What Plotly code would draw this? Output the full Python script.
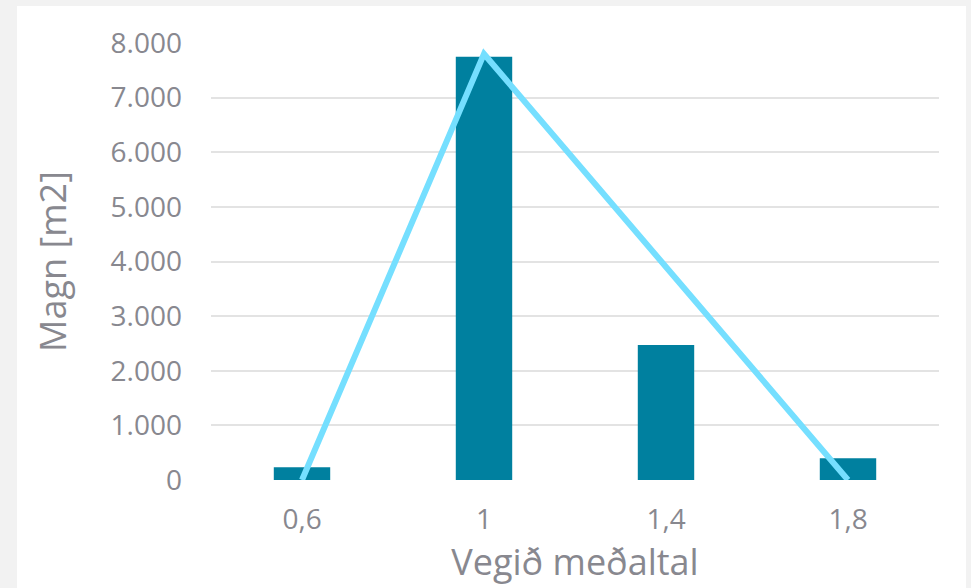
import plotly.graph_objects as go

categories = ["0,6", "1", "1,4", "1,8"]
bar_values = [235, 7750, 2470, 400]
line_values = [0, 7800, 3900, 0]
y_ticks = [0, 1000, 2000, 3000, 4000, 5000, 6000, 7000, 8000]

FONT = "Open Sans"
TEXT_GREY = "#88888f"

fig = go.Figure()
fig.add_trace(go.Bar(x=categories, y=bar_values, marker_color="#00809f",
                     marker_line_width=0, showlegend=False))
fig.add_trace(go.Scatter(x=categories, y=line_values, mode="lines",
                         line=dict(color="#75dfff", width=6), showlegend=False))

# white panel on the light grey page
fig.add_shape(type="rect", xref="paper", yref="paper",
              x0=(17 - 211) / 728, x1=(966 - 211) / 728,
              y0=-0.4, y1=(480 - 6) / 437,
              fillcolor="white", line_width=0, layer="below")

fig.update_layout(
    width=971, height=588,
    margin=dict(l=211, r=32, t=43, b=108),
    paper_bgcolor="#f2f2f2",
    plot_bgcolor="rgba(0,0,0,0)",
    bargap=0.69,
    separators=",.",
    font=dict(family=FONT, color=TEXT_GREY, size=28),
)
fig.update_xaxes(
    type="category", showgrid=False, zeroline=False, showline=False,
    ticklabelstandoff=20,
    title=dict(text="Vegið meðaltal", font=dict(size=36, color=TEXT_GREY), standoff=6),
)
fig.update_yaxes(
    range=[0, 8000], tickvals=y_ticks, tickformat=",d", separatethousands=True,
    showgrid=True, gridcolor="#e3e3e3", gridwidth=2, zeroline=False,
    ticklabelstandoff=28,
    title=dict(text="Magn [m2]", font=dict(size=36, color=TEXT_GREY), standoff=32),
)

# drop the default body margin so the figure sits at the window's corner
fig.write_html("out.html", config={"displayModeBar": False},
               post_script="document.body.style.margin = '0';")
